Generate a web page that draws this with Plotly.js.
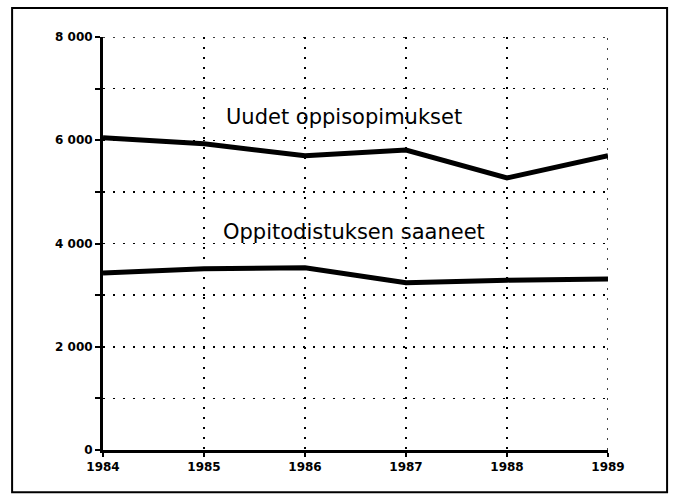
<!DOCTYPE html>
<html>
<head>
<meta charset="utf-8">
<script src="https://cdn.plot.ly/plotly-3.0.1.min.js"></script>
<style>
  body { margin: 0; background: #fff; }
  #chart { width: 673px; height: 497px; }
</style>
</head>
<body>
<div id="chart"></div>
<script>
// vuodet ja sarjat
const years = [1984, 1985, 1986, 1987, 1988, 1989];
const uudet = [6050, 5930, 5700, 5810, 5270, 5700];
const todistukset = [3430, 3510, 3530, 3240, 3290, 3310];
const yTicks = [0, 1000, 2000, 3000, 4000, 5000, 6000, 7000, 8000];
const yTickText = ["0", "", "2 000", "", "4 000", "", "6 000", "", "8 000"];

const lineStyle = { color: "#000", width: 5 };
const gridDash = "2px,8px";
const tickFont = { size: 12, family: "DejaVu Sans, sans-serif", weight: "bold" };
const labelFont = { size: 21, family: "DejaVu Sans, sans-serif" };

Plotly.newPlot(
  "chart",
  [
    { x: years, y: uudet, type: "scatter", mode: "lines", line: lineStyle, name: "Uudet oppisopimukset" },
    { x: years, y: todistukset, type: "scatter", mode: "lines", line: lineStyle, name: "Oppitodistuksen saaneet" },
  ],
  {
    width: 673,
    height: 497,
    margin: { l: 103, r: 65, t: 37, b: 47 },
    showlegend: false,
    paper_bgcolor: "#fff",
    plot_bgcolor: "#fff",
    font: { family: "DejaVu Sans, sans-serif", color: "#000" },
    xaxis: {
      range: [1984, 1989],
      tickvals: years,
      ticktext: years.map(String),
      ticks: "outside",
      ticklen: 4,
      tickwidth: 2,
      tickcolor: "#000",
      showline: true,
      linecolor: "#000",
      linewidth: 3,
      showgrid: true,
      gridcolor: "#000",
      gridwidth: 1.5,
      griddash: gridDash,
      zeroline: false,
      tickfont: tickFont,
    },
    yaxis: {
      range: [0, 8000],
      tickvals: yTicks,
      ticktext: yTickText,
      ticks: "outside",
      ticklen: 5,
      tickwidth: 2,
      tickcolor: "#000",
      showline: true,
      linecolor: "#000",
      linewidth: 3,
      showgrid: true,
      gridcolor: "#000",
      gridwidth: 1.5,
      griddash: gridDash,
      zeroline: false,
      tickfont: tickFont,
    },
    annotations: [
      { x: 1986.39, y: 6450, text: "Uudet oppisopimukset", showarrow: false, font: labelFont },
      { x: 1986.49, y: 4230, text: "Oppitodistuksen saaneet", showarrow: false, font: labelFont },
    ],
    shapes: [
      // reunaviivat ylä- ja oikealle (Plotly jättää reunan gridin pois)
      { type: "line", xref: "paper", yref: "y", x0: 0, x1: 1, y0: 8000, y1: 8000,
        line: { color: "#000", width: 1.5, dash: gridDash } },
      { type: "line", xref: "x", yref: "paper", x0: 1989, x1: 1989, y0: 0, y1: 1,
        line: { color: "#000", width: 1.5, dash: gridDash } },
      {
        type: "rect", xref: "paper", yref: "paper",
        x0: -0.180, x1: 1.117, y0: -0.102, y1: 1.070,
        line: { color: "#000", width: 2 },
      },
    ],
  },
  { displayModeBar: false, staticPlot: true },
);
</script>
</body>
</html>
